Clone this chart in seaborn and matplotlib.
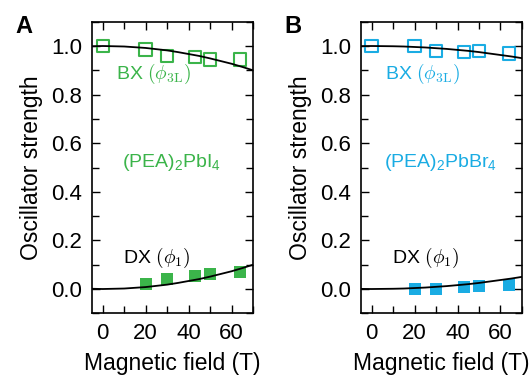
import numpy as np
import pandas as pd
import seaborn as sns
import matplotlib.pyplot as plt
from matplotlib.ticker import MultipleLocator

# measured points
field_pts_A = [0, 20, 30, 43, 50, 64]
bx_A = [1.0, 0.985, 0.96, 0.955, 0.945, 0.945]
dx_field_A = [20, 30, 43, 50, 64]
dx_A = [0.02, 0.04, 0.055, 0.06, 0.07]

field_pts_B = [0, 20, 30, 43, 50, 64]
bx_B = [1.0, 1.0, 0.98, 0.975, 0.98, 0.97]
dx_field_B = [20, 30, 43, 50, 64]
dx_B = [0.0, 0.0, 0.01, 0.012, 0.017]

# model curves
curve_field = [-5, 0, 5, 10, 15, 20, 25, 30, 35, 40, 45, 50, 55, 60, 65, 70]
bx_curve_A = [0.999, 1.0, 0.999, 0.998, 0.995, 0.992, 0.987, 0.982, 0.975, 0.967,
              0.959, 0.949, 0.938, 0.927, 0.914, 0.90]
dx_curve_A = [0.001, 0.0, 0.001, 0.002, 0.005, 0.008, 0.013, 0.018, 0.025, 0.033,
              0.041, 0.051, 0.062, 0.073, 0.086, 0.10]
bx_curve_B = [0.9995, 1.0, 0.9995, 0.999, 0.998, 0.996, 0.994, 0.991, 0.988, 0.984,
              0.98, 0.975, 0.969, 0.963, 0.957, 0.95]
dx_curve_B = [0.0005, 0.0, 0.0005, 0.001, 0.002, 0.004, 0.006, 0.009, 0.012, 0.016,
              0.02, 0.025, 0.031, 0.037, 0.043, 0.05]

green = '#3bb44a'
blue = '#1aace3'

sns.set_style('ticks', {'axes.edgecolor': 'black', 'text.color': 'black',
                        'xtick.color': 'black', 'ytick.color': 'black',
                        'axes.labelcolor': 'black'})
plt.rcParams['font.family'] = ['Liberation Sans', 'DejaVu Sans']
plt.rcParams['mathtext.fontset'] = 'cm'
plt.rcParams['mathtext.rm'] = 'Liberation Sans'
plt.rcParams['mathtext.it'] = 'Liberation Sans:italic'

fig = plt.figure(figsize=(5.3, 3.75), dpi=100)
ax_A = fig.add_axes([0.1736, 0.1645, 0.3038, 0.7776])
ax_B = fig.add_axes([0.681, 0.1645, 0.3038, 0.7776])

panels = [
    (ax_A, 'A', green, field_pts_A, bx_A, dx_field_A, dx_A, bx_curve_A, dx_curve_A,
     '(PEA)$_\\mathrm{2}$PbI$_\\mathrm{4}$'),
    (ax_B, 'B', blue, field_pts_B, bx_B, dx_field_B, dx_B, bx_curve_B, dx_curve_B,
     '(PEA)$_\\mathrm{2}$PbBr$_\\mathrm{4}$'),
]

for ax, letter, col, fx, bx, dfx, dx, bxc, dxc, formula in panels:
    curves = pd.DataFrame({'B': curve_field, 'bx': bxc, 'dx': dxc})
    sns.scatterplot(x=fx, y=bx, ax=ax, marker='s', s=80, facecolor='none',
                    edgecolor=col, linewidth=1.5, zorder=2)
    sns.scatterplot(x=dfx, y=dx, ax=ax, marker='s', s=80, color=col,
                    edgecolor=col, linewidth=0, zorder=2)
    sns.lineplot(data=curves, x='B', y='bx', ax=ax, color='black', lw=1.3, zorder=3)
    sns.lineplot(data=curves, x='B', y='dx', ax=ax, color='black', lw=1.3, zorder=3)

    ax.set_xlim(-5, 70)
    ax.set_ylim(-0.1, 1.1)
    ax.xaxis.set_major_locator(MultipleLocator(20))
    ax.xaxis.set_minor_locator(MultipleLocator(10))
    ax.yaxis.set_major_locator(MultipleLocator(0.2))
    ax.yaxis.set_minor_locator(MultipleLocator(0.1))
    ax.tick_params(which='both', direction='in', top=True, right=True,
                   width=1, labelsize=16, pad=7, colors='black')
    ax.tick_params(which='major', length=6)
    ax.tick_params(which='minor', length=5)
    for sp in ax.spines.values():
        sp.set_linewidth(1.2)
        sp.set_color('black')
    ax.set_xlabel('Magnetic field (T)', fontsize=16.5, labelpad=6, color='black')
    ax.set_ylabel('Oscillator strength', fontsize=16.5, labelpad=6, color='black')

    ax.text(6.0, 0.885, 'BX $(\\phi_{\\rm 3L})$', color=col, fontsize=14,
            va='center', ha='left')
    ax.text(9.5, 0.127, 'DX $(\\phi_{1})$', color='black', fontsize=14,
            va='center', ha='left')
    ax.text(32, 0.52, formula, color=col, fontsize=14, va='center', ha='center',
            math_fontfamily='custom')
    ax.text(-0.478, 0.985, letter, transform=ax.transAxes, fontsize=17,
            fontweight='bold', va='center', ha='left', color='black')

fig.savefig('out.png', dpi=100)
